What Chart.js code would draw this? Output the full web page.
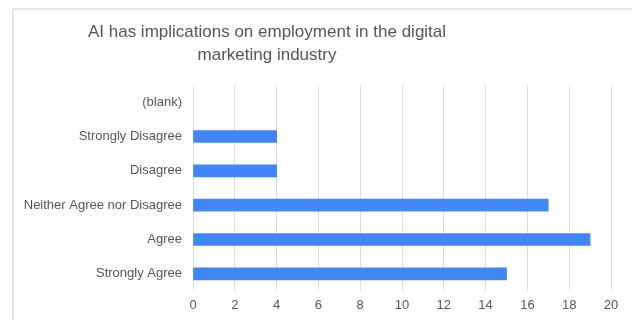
<!DOCTYPE html>
<html>
<head>
<meta charset="utf-8">
<script src="https://cdn.jsdelivr.net/npm/chart.js@4/dist/chart.umd.min.js"></script>
<style>
  body { margin: 0; background: #fff; }
  #wrap { position: relative; width: 632px; height: 320px; }
  #frame { position: absolute; left: 12px; top: 8px; right: -2px; bottom: -2px; border: 2px solid #e6e6e6; }
  canvas { position: absolute; left: 0; top: 0; }
</style>
</head>
<body>
<div id="wrap">
  <div id="frame"></div>
  <canvas id="surveyChart" width="632" height="320"></canvas>
</div>
<script>
var titleLines = ['AI has implications on employment in the digital', 'marketing industry'];
var answers = ['(blank)', 'Strongly Disagree', 'Disagree', 'Neither Agree nor Disagree', 'Agree', 'Strongly Agree'];
var counts = [null, 4, 4, 17, 19, 15];

// title is centred on the original (wider) sheet chart, not the canvas
var titlePlugin = {
  id: 'sheetTitle',
  afterDraw: function (chart) {
    var c = chart.ctx;
    c.save();
    c.fillStyle = '#555';
    c.font = '17px "Liberation Sans", Arial, sans-serif';
    c.textAlign = 'center';
    c.textBaseline = 'middle';
    c.fillText(titleLines[0], 267, 32);
    c.fillText(titleLines[1], 267, 55);
    c.restore();
  }
};

var ctx = document.getElementById('surveyChart').getContext('2d');
var chart = new Chart(ctx, {
  type: 'bar',
  data: {
    labels: answers,
    datasets: [{
      data: counts,
      backgroundColor: '#4285f4',
      barThickness: 12
    }]
  },
  options: {
    indexAxis: 'y',
    responsive: false,
    animation: false,
    layout: { padding: { top: 85, right: 21, left: 0, bottom: 0 } },
    plugins: {
      legend: { display: false },
      tooltip: { enabled: false }
    },
    scales: {
      x: {
        min: 0,
        max: 20,
        ticks: {
          stepSize: 2,
          color: '#555',
          padding: 7,
          font: { family: '"Liberation Sans", Arial, sans-serif', size: 13 }
        },
        grid: { color: '#dcdcdc', drawTicks: false },
        border: { display: false },
        afterFit: function (scale) { scale.height = 29; }
      },
      y: {
        ticks: {
          color: '#555',
          padding: 11,
          font: { family: '"Liberation Sans", Arial, sans-serif', size: 13 }
        },
        grid: { display: false, drawTicks: false },
        border: { display: false },
        afterFit: function (scale) { scale.width = 193; }
      }
    }
  },
  plugins: [titlePlugin]
});
</script>
</body>
</html>
